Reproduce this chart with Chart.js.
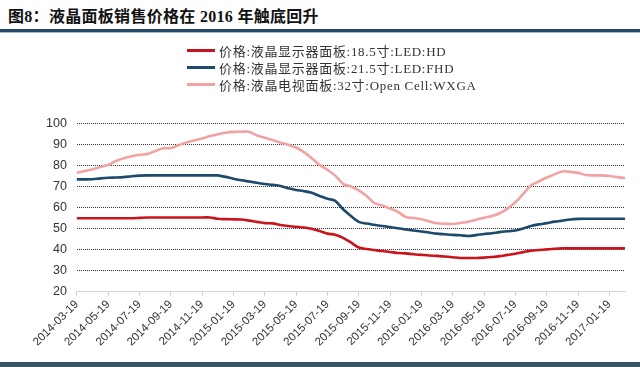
<!DOCTYPE html>
<html>
<head>
<meta charset="utf-8">
<script src="https://cdn.jsdelivr.net/npm/chart.js@4.4.1/dist/chart.umd.min.js"></script>
<style>
  body { margin: 0; width: 640px; height: 367px; overflow: hidden; background: #fff; position: relative; }
  #title { position: absolute; left: 8px; top: 3px; font: bold 16px "Liberation Serif", "Noto Sans CJK SC"; letter-spacing: 0.3px; color: #111; white-space: nowrap; }
  #rule { position: absolute; left: 0; top: 29px; width: 640px; height: 3px; background: #23486a; }
  #rule2 { position: absolute; left: 0; top: 32px; width: 640px; height: 1px; background: #a9b8c6; }
  #legend { position: absolute; left: 187px; top: 42px; font: 13px "Liberation Serif", "Noto Sans CJK SC"; letter-spacing: 0.7px; color: #333; z-index: 2; }
  .item { height: 17px; display: flex; align-items: center; white-space: nowrap; }
  .swatch { width: 28px; height: 3px; margin-right: 4px; }
  #bottom { position: absolute; left: 0; top: 362px; width: 640px; height: 5px; background: #3a5562; }
  #wrap { position: absolute; left: 0; top: 0; }
</style>
</head>
<body>
<div id="title">图8：液晶面板销售价格在 2016 年触底回升</div>
<div id="rule"></div>
<div id="rule2"></div>
<div id="legend"></div>
<div id="wrap"><canvas id="priceChart" width="640" height="367"></canvas></div>
<div id="bottom"></div>
<script>
// 日期（半月一个点）
const dates = [
  "2014-03-19", "2014-04-04", "2014-04-19", "2014-05-04", "2014-05-19", "2014-06-04", "2014-06-19", "2014-07-04",
  "2014-07-19", "2014-08-04", "2014-08-19", "2014-09-04", "2014-09-19", "2014-10-04", "2014-10-19", "2014-11-04",
  "2014-11-19", "2014-12-04", "2014-12-19", "2015-01-04", "2015-01-19", "2015-02-04", "2015-02-19", "2015-03-04",
  "2015-03-19", "2015-04-04", "2015-04-19", "2015-05-04", "2015-05-19", "2015-06-04", "2015-06-19", "2015-07-04",
  "2015-07-19", "2015-08-04", "2015-08-19", "2015-09-04", "2015-09-19", "2015-10-04", "2015-10-19", "2015-11-04",
  "2015-11-19", "2015-12-04", "2015-12-19", "2016-01-04", "2016-01-19", "2016-02-04", "2016-02-19", "2016-03-04",
  "2016-03-19", "2016-04-04", "2016-04-19", "2016-05-04", "2016-05-19", "2016-06-04", "2016-06-19", "2016-07-04",
  "2016-07-19", "2016-08-04", "2016-08-19", "2016-09-04", "2016-09-19", "2016-10-04", "2016-10-19", "2016-11-04",
  "2016-11-19", "2016-12-04", "2016-12-19", "2017-01-04", "2017-01-19", "2017-02-04", "2017-02-19"
];

// 18.5寸 LED HD
const hd185 = [
  54.9, 54.9, 54.9, 54.9, 54.9, 54.9, 54.9, 54.9, 55.1, 55.3,
  55.3, 55.3, 55.3, 55.3, 55.3, 55.3, 55.3, 55.3, 54.7, 54.5,
  54.4, 54.3, 53.8, 53.2, 52.6, 52.5, 51.7, 51.2, 50.9, 50.5,
  49.9, 48.8, 47.6, 47.1, 45.6, 43.4, 41.0, 40.3, 39.8, 39.3,
  38.9, 38.4, 38.2, 37.8, 37.5, 37.2, 37.0, 36.7, 36.4, 36.0,
  36.0, 36.0, 36.2, 36.5, 36.9, 37.5, 38.0, 38.8, 39.5, 39.8,
  40.1, 40.4, 40.6, 40.6, 40.6, 40.6, 40.6, 40.6, 40.6, 40.6, 40.6
];

// 21.5寸 LED FHD
const fhd215 = [
  73.4, 73.4, 73.5, 73.9, 74.2, 74.3, 74.5, 74.9, 75.2, 75.3,
  75.3, 75.3, 75.3, 75.3, 75.3, 75.3, 75.3, 75.3, 75.3, 74.6,
  73.7, 73.0, 72.4, 71.8, 71.2, 70.8, 70.3, 69.2, 68.4, 67.8,
  67.0, 65.5, 64.2, 63.2, 59.2, 56.0, 53.2, 52.4, 51.8, 51.2,
  50.7, 50.2, 49.6, 49.1, 48.6, 48.1, 47.6, 47.3, 47.0, 46.8,
  46.5, 46.9, 47.4, 47.8, 48.3, 48.7, 49.1, 50.1, 51.2, 52.0,
  52.6, 53.3, 53.8, 54.3, 54.6, 54.7, 54.7, 54.7, 54.7, 54.7, 54.7
];

// 32寸 Open Cell WXGA
const tv32 = [
  76.5, 77.4, 78.2, 79.3, 80.3, 82.2, 83.5, 84.4, 85.1, 85.5,
  86.9, 88.2, 88.3, 89.7, 91.0, 91.9, 92.9, 94.0, 94.9, 95.6,
  96.0, 96.1, 96.1, 94.3, 93.2, 92.1, 90.9, 89.9, 88.6, 86.4,
  83.5, 80.3, 78.0, 75.2, 71.3, 70.0, 68.2, 65.5, 62.1, 61.0,
  59.5, 58.0, 55.5, 55.0, 54.4, 53.4, 52.5, 52.3, 52.2, 52.7,
  53.3, 54.2, 55.2, 56.0, 57.3, 59.5, 62.5, 66.5, 70.5, 72.5,
  74.3, 75.8, 77.2, 77.0, 76.5, 75.5, 75.3, 75.3, 75.0, 74.5, 74.0
];

const seriesNames = [
  "价格:液晶显示器面板:18.5寸:LED:HD",
  "价格:液晶显示器面板:21.5寸:LED:FHD",
  "价格:液晶电视面板:32寸:Open Cell:WXGA"
];
const seriesColors = ["#c9141c", "#1b4a6c", "#f2a2a3"];
const yTicks = [20, 30, 40, 50, 60, 70, 80, 90, 100];

const datasets = [hd185, fhd215, tv32].map((vals, i) => ({
  label: seriesNames[i],
  data: vals,
  borderColor: seriesColors[i],
  backgroundColor: seriesColors[i],
  borderWidth: 2.6,
  pointRadius: 0,
  tension: 0.3,
  fill: false
}));

// 图例（手动排成一列）
const legendBox = document.getElementById("legend");
datasets.forEach(ds => {
  const row = document.createElement("div");
  row.className = "item";
  row.innerHTML = '<span class="swatch" style="background:' + ds.borderColor + '"></span><span>' + ds.label + '</span>';
  legendBox.appendChild(row);
});

const ctx = document.getElementById("priceChart").getContext("2d");
const priceChart = new Chart(ctx, {
  type: "line",
  data: { labels: dates, datasets: datasets },
  options: {
    responsive: false,
    animation: false,
    layout: { padding: { left: 36, right: 15, top: 123.5, bottom: 16 } },
    plugins: { legend: { display: false }, tooltip: { enabled: false } },
    scales: {
      x: {
        offset: false,
        grid: {
          drawOnChartArea: false,
          drawTicks: true,
          tickLength: 4,
          color: c => (c.index % 4 === 0 ? "#cfcfcf" : "rgba(0,0,0,0)")
        },
        border: { color: "#d6d6d6", width: 1 },
        ticks: {
          autoSkip: false,
          minRotation: 45,
          maxRotation: 45,
          padding: 2,
          color: "#333",
          font: { family: "Liberation Sans", size: 11.5 },
          callback: (v, i) => (i % 4 === 0 ? dates[i] : "")
        }
      },
      y: {
        min: yTicks[0],
        max: yTicks[yTicks.length - 1],
        afterBuildTicks: axis => { axis.ticks = yTicks.map(v => ({ value: v })); },
        border: { display: false, dash: [1, 1] },
        grid: {
          drawTicks: false,
          color: c => (c.tick && c.tick.value === 20 ? "rgba(0,0,0,0)" : "#333")
        },
        ticks: {
          padding: 10,
          color: "#333",
          font: { family: "Liberation Sans", size: 12.5 }
        }
      }
    }
  }
});
</script>
</body>
</html>
